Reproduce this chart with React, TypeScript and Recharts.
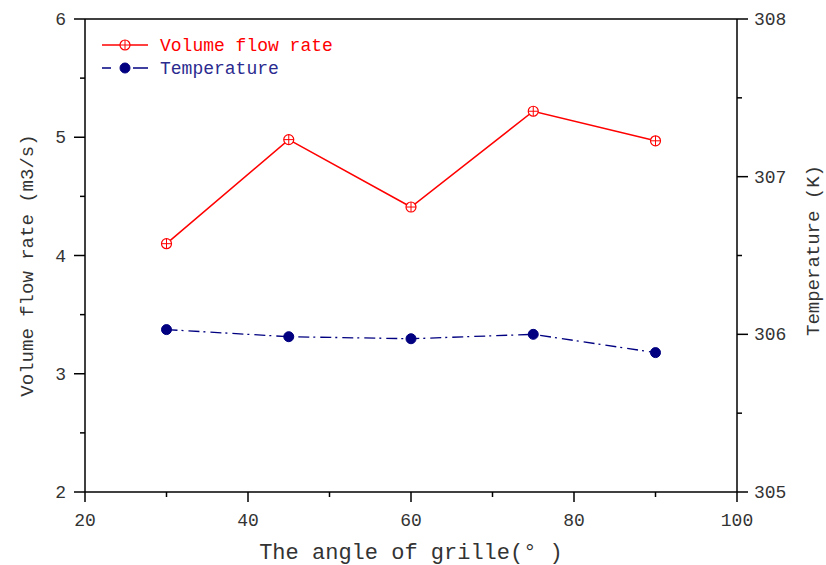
import React from 'react';
import { LineChart, Line, XAxis, YAxis, ReferenceLine, Legend } from 'recharts';

const angles = [30, 45, 60, 75, 90];
const volumeFlow = [4.1, 4.98, 4.41, 5.22, 4.97];
const temperature = [306.03, 305.985, 305.972, 306.0, 305.884];
const xTicks = [20, 30, 40, 50, 60, 70, 80, 90, 100];
const xMajor = [20, 40, 60, 80, 100];
const leftTicks = [2, 2.5, 3, 3.5, 4, 4.5, 5, 5.5, 6];
const leftMajor = [2, 3, 4, 5, 6];
const rightTicks = [305, 305.5, 306, 306.5, 307, 307.5, 308];
const rightMajor = [305, 306, 307, 308];

const data = angles.map((a, i) => ({ angle: a, volume: volumeFlow[i], temp: temperature[i] }));

const FONT = '"Liberation Mono", monospace';
const RED = '#ff0000';
const NAVY = '#000080';
const AXIS_W = 1.5;

const XTick = (props: any) => {
  const { x, y, payload } = props;
  const major = xMajor.includes(payload.value);
  return (
    <g>
      <line x1={x} x2={x} y1={y} y2={y + (major ? 10 : 5)} stroke="#000" strokeWidth={AXIS_W} />
      {major && (
        <text x={x} y={y + 34} textAnchor="middle" fontFamily={FONT} fontSize={18} fill="#333">
          {payload.value}
        </text>
      )}
    </g>
  );
};

const LeftTick = (props: any) => {
  const { x, y, payload } = props;
  const major = leftMajor.includes(payload.value);
  return (
    <g>
      <line x1={x} x2={x - (major ? 11 : 5)} y1={y} y2={y} stroke="#000" strokeWidth={AXIS_W} />
      {major && (
        <text x={x - 19} y={y + 6} textAnchor="end" fontFamily={FONT} fontSize={18} fill="#333">
          {payload.value}
        </text>
      )}
    </g>
  );
};

const RightTick = (props: any) => {
  const { x, y, payload } = props;
  const major = rightMajor.includes(payload.value);
  return (
    <g>
      <line x1={x} x2={x + (major ? 11 : 5)} y1={y} y2={y} stroke="#000" strokeWidth={AXIS_W} />
      {major && (
        <text x={x + 17} y={y + 6} textAnchor="start" fontFamily={FONT} fontSize={18} fill="#333">
          {payload.value}
        </text>
      )}
    </g>
  );
};

const CrossDot = (props: any) => {
  const { cx, cy, index } = props;
  if (cx == null || cy == null) return <g key={index} />;
  return (
    <g key={index}>
      <circle cx={cx} cy={cy} r={5} fill="#fff" stroke={RED} strokeWidth={1.2} />
      <line x1={cx - 5} x2={cx + 5} y1={cy} y2={cy} stroke={RED} strokeWidth={1} />
      <line x1={cx} x2={cx} y1={cy - 5} y2={cy + 5} stroke={RED} strokeWidth={1} />
    </g>
  );
};

const FilledDot = (props: any) => {
  const { cx, cy, index } = props;
  if (cx == null || cy == null) return <g key={index} />;
  return <circle key={index} cx={cx} cy={cy} r={5} fill={NAVY} stroke={NAVY} />;
};

const LegendContent = () => (
  <svg width={260} height={52} style={{ display: 'block' }}>
    <line x1={7} x2={53} y1={14} y2={14} stroke={RED} strokeWidth={1.5} />
    <CrossDot cx={30} cy={14} index={0} />
    <text x={65} y={20} fontFamily={FONT} fontSize={18} fill={RED}>Volume flow rate</text>
    <line x1={7} x2={16} y1={37} y2={37} stroke={NAVY} strokeWidth={1.5} />
    <line x1={38} x2={53} y1={37} y2={37} stroke={NAVY} strokeWidth={1.5} />
    <FilledDot cx={30} cy={37} index={1} />
    <text x={65} y={43} fontFamily={FONT} fontSize={18} fill="#2b2b8f">Temperature</text>
  </svg>
);

export default function App() {
  return (
    <div style={{ position: 'absolute', left: 0, top: 0, width: 826, height: 565, background: '#fff' }}>
      <LineChart width={826} height={565} data={data} margin={{ top: 19, right: 0, bottom: 0, left: 0 }}>
        <XAxis
          dataKey="angle"
          type="number"
          domain={[20, 100]}
          ticks={xTicks}
          tick={<XTick />}
          tickLine={false}
          tickSize={0}
          tickMargin={0}
          height={73}
          axisLine={{ stroke: '#000', strokeWidth: AXIS_W }}
          interval={0}
          label={{ value: 'The angle of grille(° )', position: 'insideBottom', offset: 6, fontFamily: FONT, fontSize: 22, fill: '#333' }}
        />
        <YAxis
          yAxisId="left"
          orientation="left"
          type="number"
          domain={[2, 6]}
          ticks={leftTicks}
          tick={<LeftTick />}
          tickLine={false}
          tickSize={0}
          tickMargin={0}
          width={85}
          interval={0}
          axisLine={{ stroke: '#000', strokeWidth: AXIS_W }}
          label={{ value: 'Volume flow rate (m3/s)', angle: -90, position: 'insideLeft', offset: 26, dy: 10, fontFamily: FONT, fontSize: 19, fill: '#333', style: { textAnchor: 'middle' } }}
        />
        <YAxis
          yAxisId="right"
          orientation="right"
          type="number"
          domain={[305, 308]}
          ticks={rightTicks}
          tick={<RightTick />}
          tickLine={false}
          tickSize={0}
          tickMargin={0}
          width={89}
          interval={0}
          axisLine={{ stroke: '#000', strokeWidth: AXIS_W }}
          label={{ value: 'Temperature (K)', angle: -90, position: 'insideRight', offset: 14, dy: -5, fontFamily: FONT, fontSize: 19, fill: '#333', style: { textAnchor: 'middle' } }}
        />
        <ReferenceLine yAxisId="left" y={6} stroke="#000" strokeWidth={AXIS_W} />
        <Legend
          layout="horizontal"
          verticalAlign="middle"
          align="center"
          content={<LegendContent />}
          wrapperStyle={{ position: 'absolute', left: 95, top: 31, width: 260, height: 52 }}
        />
        <Line
          yAxisId="left"
          dataKey="volume"
          stroke={RED}
          strokeWidth={1.5}
          dot={<CrossDot />}
          activeDot={false}
          isAnimationActive={false}
          legendType="none"
        />
        <Line
          yAxisId="right"
          dataKey="temp"
          stroke={NAVY}
          strokeWidth={1.3}
          strokeDasharray="11 4 2 5"
          dot={<FilledDot />}
          activeDot={false}
          isAnimationActive={false}
          legendType="none"
        />
      </LineChart>
    </div>
  );
}
